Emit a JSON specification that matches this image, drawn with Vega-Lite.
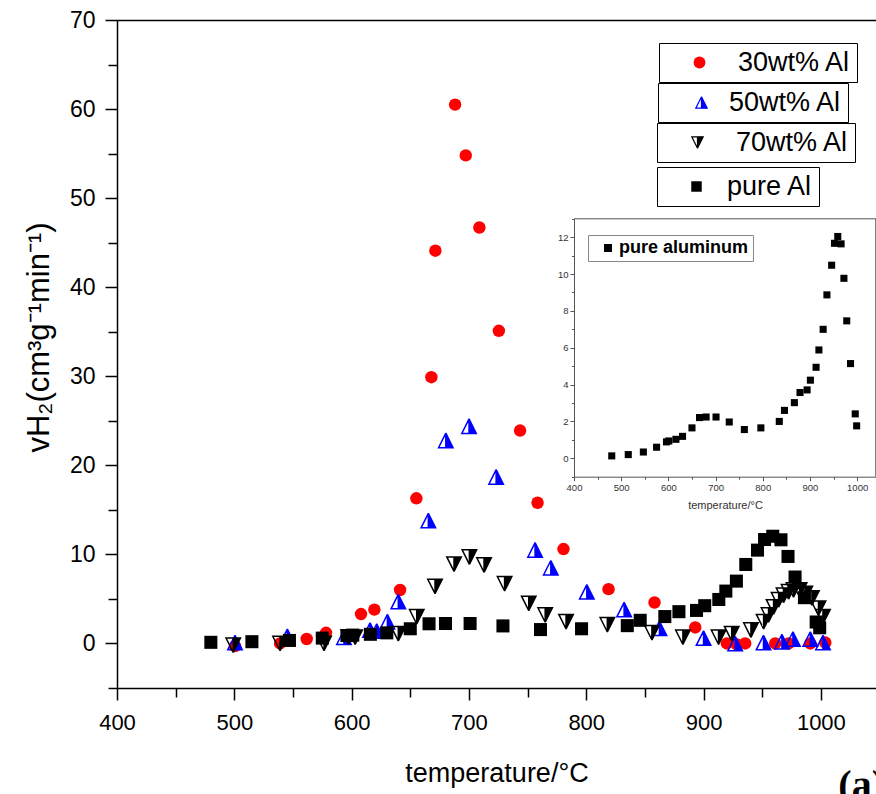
{
  "$schema": "https://vega.github.io/schema/vega-lite/v6.json",
  "width": 759,
  "height": 668,
  "autosize": {"type": "none"},
  "padding": {"left": 117, "top": 20, "right": 0, "bottom": 106},
  "background": "white",
  "config": {
    "view": {"stroke": null},
    "font": "Liberation Sans",
    "axis": {"grid": false, "domainColor": "black", "tickColor": "black", "labelColor": "black", "titleColor": "black", "labelFont": "Liberation Sans", "titleFont": "Liberation Sans", "titleFontWeight": "normal", "labelFlush": false, "labelOverlap": false, "labelBound": false},
    "legend": {"labelFont": "Liberation Sans", "labelColor": "black", "labelLimit": 400}
  },
  "title": {"text": "(a)", "orient": "bottom", "anchor": "end", "frame": "group", "font": "Liberation Serif", "fontSize": 40, "fontWeight": "bold", "color": "black", "offset": -20, "dx": 9},
  "datasets": {
    "pure": [
      {"t": 480, "v": 0.13}, {"t": 515, "v": 0.2}, {"t": 547, "v": 0.34}, {"t": 575, "v": 0.6}, {"t": 596, "v": 0.89}, {"t": 601, "v": 0.94}, {"t": 616, "v": 1.03}, {"t": 630, "v": 1.19}, {"t": 650, "v": 1.65}, {"t": 666, "v": 2.21}, {"t": 680, "v": 2.24}, {"t": 701, "v": 2.24}, {"t": 729, "v": 1.97}, {"t": 761, "v": 1.56}, {"t": 796, "v": 1.65}, {"t": 835, "v": 2.0}, {"t": 846, "v": 2.6}, {"t": 867, "v": 3.02}, {"t": 879, "v": 3.57}, {"t": 894, "v": 3.71}, {"t": 901, "v": 4.24}, {"t": 913, "v": 4.94}, {"t": 919, "v": 5.88}, {"t": 928, "v": 7.0}, {"t": 936, "v": 8.87}, {"t": 946, "v": 10.48}, {"t": 952, "v": 11.67}, {"t": 959, "v": 12.04}, {"t": 966, "v": 11.64}, {"t": 972, "v": 9.77}, {"t": 978, "v": 7.46}, {"t": 986, "v": 5.14}, {"t": 996, "v": 2.41}, {"t": 999, "v": 1.76}
    ],
    "al30": [
      {"t": 500.6, "v": -0.3}, {"t": 539, "v": 0}, {"t": 561.7, "v": 0.5}, {"t": 578.2, "v": 1.2}, {"t": 608, "v": 3.3}, {"t": 619.4, "v": 3.8}, {"t": 641.3, "v": 6.0}, {"t": 655.2, "v": 16.3}, {"t": 668, "v": 29.9}, {"t": 671.4, "v": 44.1}, {"t": 688.2, "v": 60.5}, {"t": 697.3, "v": 54.8}, {"t": 708.9, "v": 46.7}, {"t": 725.5, "v": 35.1}, {"t": 743.6, "v": 23.9}, {"t": 758.5, "v": 15.8}, {"t": 780.6, "v": 10.6}, {"t": 819, "v": 6.1}, {"t": 858.2, "v": 4.6}, {"t": 892.9, "v": 1.8}, {"t": 919.9, "v": 0.0}, {"t": 928.4, "v": -0.1}, {"t": 935.5, "v": 0}, {"t": 961.1, "v": 0}, {"t": 972.5, "v": 0}, {"t": 991, "v": 0}, {"t": 1003.8, "v": 0.1}
    ],
    "al50": [
      {"t": 500.6, "v": 0.1}, {"t": 545.2, "v": 0.8}, {"t": 593.5, "v": 0.7}, {"t": 615.7, "v": 1.5}, {"t": 621.4, "v": 1.4}, {"t": 630.5, "v": 2.45}, {"t": 639.8, "v": 4.7}, {"t": 665.4, "v": 13.8}, {"t": 680.3, "v": 22.8}, {"t": 700.1, "v": 24.4}, {"t": 723.2, "v": 18.7}, {"t": 756.4, "v": 10.5}, {"t": 769.8, "v": 8.5}, {"t": 800.5, "v": 5.8}, {"t": 832.3, "v": 3.8}, {"t": 862.4, "v": 1.7}, {"t": 900, "v": 0.6}, {"t": 927, "v": 0.0}, {"t": 951.1, "v": 0.1}, {"t": 966.8, "v": 0.2}, {"t": 976.2, "v": 0.5}, {"t": 991, "v": 0.5}, {"t": 1001.8, "v": 0.1}
    ],
    "al70": [
      {"t": 499.1, "v": -0.2}, {"t": 539, "v": 0}, {"t": 576.5, "v": 0}, {"t": 597.2, "v": 0.7}, {"t": 603, "v": 0.7}, {"t": 639.8, "v": 1.1}, {"t": 655.5, "v": 3.0}, {"t": 671.1, "v": 6.4}, {"t": 687.3, "v": 8.9}, {"t": 700.4, "v": 9.7}, {"t": 712.9, "v": 8.8}, {"t": 730.4, "v": 6.7}, {"t": 751, "v": 4.5}, {"t": 765, "v": 3.2}, {"t": 782.8, "v": 2.45}, {"t": 818, "v": 2.1}, {"t": 856, "v": 1.2}, {"t": 882.4, "v": 0.7}, {"t": 912.8, "v": 0.7}, {"t": 924, "v": 1.1}, {"t": 940.4, "v": 1.5}, {"t": 951.2, "v": 2.45}, {"t": 955.4, "v": 3.2}, {"t": 959.7, "v": 4.1}, {"t": 964, "v": 4.9}, {"t": 968.2, "v": 5.4}, {"t": 972.5, "v": 5.8}, {"t": 976.7, "v": 6.0}, {"t": 981.9, "v": 6.0}, {"t": 986.7, "v": 5.6}, {"t": 992.4, "v": 5.1}, {"t": 998, "v": 3.95}, {"t": 1001.8, "v": 3.0}
    ]
  },
  "layer": [
    {
      "layer": [
        {
          "data": {"name": "al30"},
          "mark": {"type": "point", "shape": "circle", "filled": true, "size": 155, "opacity": 1},
          "encoding": {
            "x": {"field": "t", "type": "quantitative", "scale": {"domain": [400, 1047], "nice": false},
              "axis": {"orient": "bottom", "values": [400, 450, 500, 550, 600, 650, 700, 750, 800, 850, 900, 950, 1000], "format": "d", "labelExpr": "datum.value % 100 === 0 ? datum.label : ''", "labelFontSize": 22, "labelPadding": 12, "tickSize": {"condition": {"test": "datum.value % 100 === 0", "value": 12}, "value": 9}, "tickWidth": 1.5, "domainWidth": 1.5, "title": "temperature/°C", "titleFontSize": 27, "titlePadding": 27}},
            "y": {"field": "v", "type": "quantitative", "scale": {"domain": [-5, 70], "nice": false},
              "axis": {"orient": "left", "values": [-5, 0, 5, 10, 15, 20, 25, 30, 35, 40, 45, 50, 55, 60, 65, 70], "labelExpr": "datum.value >= 0 && datum.value % 10 === 0 ? datum.label : ''", "labelFontSize": 23, "labelPadding": 10, "tickSize": {"condition": {"test": "datum.value % 10 === 0", "value": 12}, "value": 9}, "tickWidth": 1.5, "domainWidth": 1.5, "title": "vH₂(cm³g⁻¹min⁻¹)", "titleFontSize": 31, "titlePadding": 14, "titleY": 317}},
            "color": {"datum": "30wt% Al", "type": "nominal", "scale": {"range": ["#ff0000"]},
              "legend": {"orient": "none", "legendX": 542, "legendY": 23, "title": null, "strokeColor": "black", "fillColor": "white", "padding": 6, "labelFontSize": 27, "symbolType": "circle", "symbolSize": 140, "symbolStrokeWidth": 0, "symbolOffset": 21, "labelOffset": 25}}
          }
        },
        {
          "data": {"name": "al50"},
          "mark": {"type": "point", "shape": "M0,-1L1,1L0,1Z M0,-1L-1,1L0,1L-1,1Z", "filled": true, "size": 210, "stroke": "#0000ff", "strokeWidth": 1.5, "opacity": 1},
          "encoding": {
            "x": {"field": "t", "type": "quantitative", "axis": {"orient": "top", "labels": false, "ticks": false, "domain": true, "domainWidth": 1.5, "title": null}},
            "y": {"field": "v", "type": "quantitative", "axis": null},
            "color": {"datum": "50wt% Al", "type": "nominal", "scale": {"range": ["#0000ff"]},
              "legend": {"orient": "none", "legendX": 541, "legendY": 63, "title": null, "strokeColor": "black", "fillColor": "white", "padding": 6, "labelFontSize": 27, "symbolType": "M0,-1L1,1L0,1Z M0,-1L-1,1L0,1L-1,1Z", "symbolSize": 130, "symbolStrokeColor": "#0000ff", "symbolStrokeWidth": 1.2, "symbolOffset": 24, "labelOffset": 14}}
          }
        },
        {
          "data": {"name": "al70"},
          "mark": {"type": "point", "shape": "M0,-1L1,-1L0,1Z M0,-1L-1,-1L0,1L-1,-1Z", "filled": true, "size": 210, "stroke": "black", "strokeWidth": 1.5, "opacity": 1},
          "encoding": {
            "x": {"field": "t", "type": "quantitative", "axis": null},
            "y": {"field": "v", "type": "quantitative", "axis": null},
            "color": {"datum": "70wt% Al", "type": "nominal", "scale": {"range": ["black"]},
              "legend": {"orient": "none", "legendX": 540, "legendY": 103, "title": null, "strokeColor": "black", "fillColor": "white", "padding": 6, "labelFontSize": 27, "symbolType": "M0,-1L1,-1L0,1Z M0,-1L-1,-1L0,1L-1,-1Z", "symbolSize": 130, "symbolStrokeColor": "black", "symbolStrokeWidth": 1.2, "symbolOffset": 21, "labelOffset": 25}}
          }
        },
        {
          "data": {"name": "pure"},
          "mark": {"type": "point", "shape": "square", "filled": true, "size": 170, "opacity": 1},
          "encoding": {
            "x": {"field": "t", "type": "quantitative", "axis": null},
            "y": {"field": "v", "type": "quantitative", "axis": null},
            "color": {"datum": "pure Al", "type": "nominal", "scale": {"range": ["black"]},
              "legend": {"orient": "none", "legendX": 540, "legendY": 147, "title": null, "strokeColor": "black", "fillColor": "white", "padding": 6, "labelFontSize": 27, "symbolType": "square", "symbolSize": 110, "symbolStrokeWidth": 0, "symbolOffset": 20, "labelOffset": 17}}
          }
        }
      ],
      "resolve": {"scale": {"color": "independent"}, "axis": {"x": "independent", "y": "independent"}, "legend": {"color": "independent"}}
    },
    {
      "layer": [
        {
          "data": {"name": "pure"},
          "mark": {"type": "point", "shape": "square", "filled": true, "size": 50, "opacity": 1},
          "encoding": {
            "x": {"field": "t", "type": "quantitative", "scale": {"domain": [400, 1040], "range": [457, 759], "nice": false},
              "axis": {"orient": "bottom", "offset": -211.3, "values": [400, 450, 500, 550, 600, 650, 700, 750, 800, 850, 900, 950, 1000], "format": "d", "labelExpr": "datum.value % 100 === 0 ? datum.label : ''", "labelFontSize": 9.5, "labelColor": "#333333", "labelPadding": 2, "tickSize": {"condition": {"test": "datum.value % 100 === 0", "value": 4}, "value": 2.5}, "tickColor": "#555555", "domainColor": "#555555", "title": "temperature/°C", "titleFontSize": 11, "titleColor": "#333333", "titlePadding": 7}},
            "y": {"field": "v", "type": "quantitative", "scale": {"domain": [-1, 13], "range": [456.7, 198.8], "nice": false},
              "axis": {"orient": "left", "offset": -457, "values": [-1, 0, 1, 2, 3, 4, 5, 6, 7, 8, 9, 10, 11, 12, 13], "labelExpr": "datum.value >= 0 && datum.value <= 12 && datum.value % 2 === 0 ? datum.label : ''", "labelFontSize": 9.5, "labelColor": "#333333", "labelPadding": 2, "tickSize": {"condition": {"test": "datum.value % 2 === 0", "value": 4}, "value": 2.5}, "tickColor": "#555555", "domainColor": "#555555", "title": null}},
            "color": {"datum": "pure aluminum", "type": "nominal", "scale": {"range": ["black"]},
              "legend": {"orient": "none", "legendX": 471, "legendY": 215, "title": null, "strokeColor": "#888888", "fillColor": "white", "padding": 4, "labelFontSize": 18, "labelFontWeight": "bold", "symbolType": "square", "symbolSize": 64, "symbolStrokeWidth": 0, "symbolOffset": 7, "labelOffset": 2}}
          }
        },
        {
          "data": {"values": [{}]},
          "mark": {"type": "rule", "color": "#555555", "strokeWidth": 1},
          "encoding": {"x": {"datum": 400, "type": "quantitative", "axis": null}, "x2": {"datum": 1040}, "y": {"datum": 13, "type": "quantitative", "axis": null}}
        },
        {
          "data": {"values": [{}]},
          "mark": {"type": "rule", "color": "#555555", "strokeWidth": 1},
          "encoding": {"x": {"datum": 1039.5, "type": "quantitative", "axis": null}, "y": {"datum": -1, "type": "quantitative", "axis": null}, "y2": {"datum": 13}}
        }
      ],
      "resolve": {"axis": {"x": "independent", "y": "independent"}}
    }
  ],
  "resolve": {"scale": {"x": "independent", "y": "independent", "color": "independent"}, "axis": {"x": "independent", "y": "independent"}, "legend": {"color": "independent"}}
}
